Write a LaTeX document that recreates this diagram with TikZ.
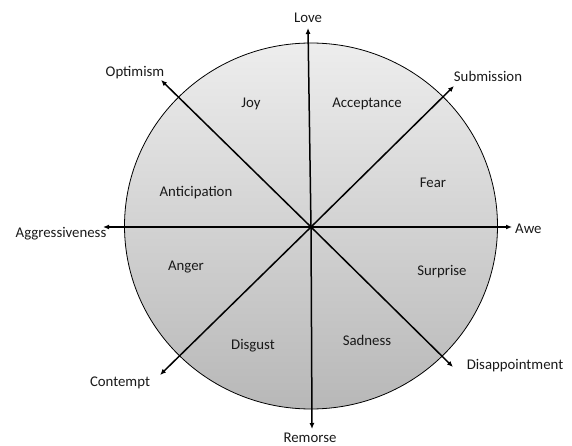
\documentclass[tikz,border=0pt]{standalone}
\usepackage{fontspec}
\setmainfont{Carlito}
\usetikzlibrary{arrows.meta}
\begin{document}
\begin{tikzpicture}[x=1pt,y=-1pt,
  axis/.style={line width=1.5pt,-{Latex[length=6pt,width=5pt]}},
  lbl/.style={font=\fontsize{14.8}{16}\selectfont,text=black!90,inner sep=0pt},
  ]
\useasboundingbox (0,0) rectangle (572,446);
\coordinate (c) at (311,227);
\shade[top color=black!7,bottom color=black!28,draw=black,line width=0.8pt]
  (311,226) ellipse [x radius=186.5,y radius=183];
% arrow tips
\coordinate (tLove) at (308,28);
\coordinate (tRem) at (312,429);
\coordinate (tAgg) at (103,227);
\coordinate (tAwe) at (512,227);
\coordinate (tOpt) at (161,80);
\coordinate (tDis) at (453,367);
\coordinate (tSub) at (454,86);
\coordinate (tCon) at (160,375);
\foreach \t in {tLove,tRem,tAgg,tAwe,tOpt,tDis,tSub,tCon}
  \draw[axis] (c) -- (\t);
% outer labels
\node[lbl] (love) at (308,18) {Love};
\node[lbl] (rem) at (310,438) {Remorse};
\node[lbl] (agg) at (61,234) {Aggressiveness};
\node[lbl,anchor=west] (awe) at (515,229) {Awe};
\node[lbl] (opt) at (135,73) {Optimism};
\node[lbl] (sub) at (488,76) {Submission};
\node[lbl] (con) at (120,383) {Contempt};
\node[lbl] (dis) at (515,366) {Disappointment};
% inner labels
\node[lbl] (joy) at (251,104) {Joy};
\node[lbl] (acc) at (367,104) {Acceptance};
\node[lbl] (fear) at (433,183) {Fear};
\node[lbl] (ant) at (196,193) {Anticipation};
\node[lbl] (ang) at (186,267) {Anger};
\node[lbl] (sur) at (442,272) {Surprise};
\node[lbl] (dsg) at (253,346) {Disgust};
\node[lbl] (sad) at (367,340) {Sadness};
\end{tikzpicture}
\end{document}
